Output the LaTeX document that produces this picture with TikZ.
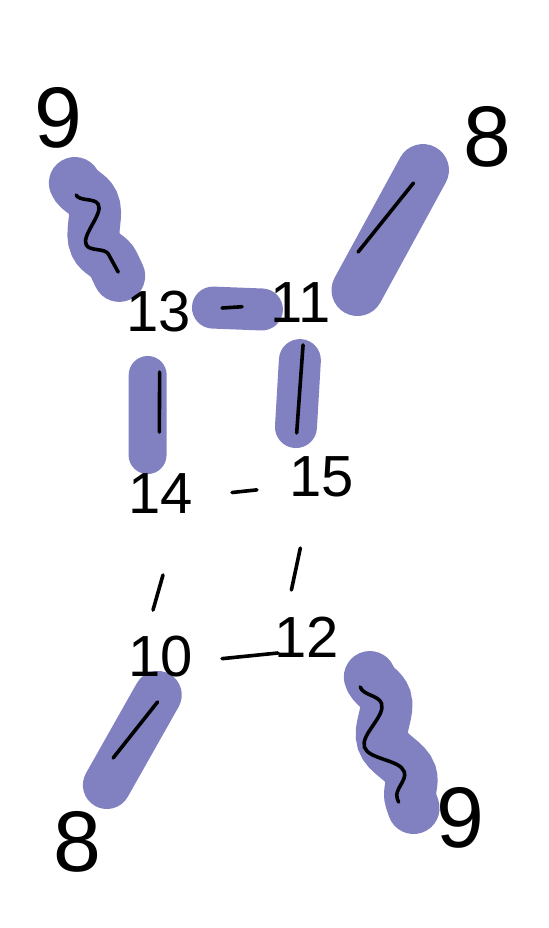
\documentclass[tikz,border=0pt]{standalone}
\usepackage{fontspec}
\setmainfont{Liberation Sans}
\usetikzlibrary{calc, decorations.pathmorphing, backgrounds}
\definecolor{marker}{RGB}{129,129,194}

\begin{document}
\begin{tikzpicture}[x=0.5pt,y=-0.5pt,
  num/.style={inner sep=0pt,font=\fontsize{29}{29}\selectfont},
  bignum/.style={inner sep=0pt,font=\fontsize{43}{43}\selectfont},
  link/.style={draw=black,line width=1.8pt,line cap=round},
  wiggle/.style={link,decorate,decoration={snake,amplitude=7.5pt,segment length=#1}},
  hl/.style={draw=marker,line width=#1,line cap=round},
  hl/.default=24pt,
  hlwiggle/.style={hl=26pt,decorate,decoration={snake,amplitude=4pt,segment length=40pt}}]
  \useasboundingbox (0,0) rectangle (548,928);
  % numbers
  \node[bignum](n9a) at (58,118){9};
  \node[bignum](n8a) at (487,137){8};
  \node[num](n13) at (159,312){13};
  \node[num](n11) at (301,303){11};
  \node[num](n14) at (161,494){14};
  \node[num](n15) at (322,477){15};
  \node[num](n10) at (161,657){10};
  \node[num](n12) at (307,637){12};
  \node[bignum](n8b) at (77,842){8};
  \node[bignum](n9b) at (460,818){9};
  % marker strokes
  \begin{pgfonlayer}{background}
    \draw[hlwiggle] ($(n9a)!.335!(n13)+(-17,0)$) -- ($(n9a)!.814!(n13)+(-21,0)$);
    \draw[hl=21pt] ($(n13)!.38!(n11)+(0,-1)$) -- ($(n13)!.725!(n11)+(0,4)$);
    \draw[hl=26pt] ($(n11)!.078!(n8a)+(42,0)$) -- ($(n11)!.801!(n8a)+(-27,0)$);
    \draw[hl=19pt] ($(n13)!.346!(n14)+(-12,0)$) -- ($(n13)!.786!(n14)+(-13,0)$);
    \draw[hl=21pt] ($(n11)!.328!(n15)+(-8,0)$) -- ($(n11)!.713!(n15)+(-20,0)$);
    \draw[hl] ($(n10)!.205!(n8b)+(14,0)$) -- ($(n10)!.692!(n8b)+(4,0)$);
    \draw[hlwiggle] ($(n12)!.221!(n9b)+(29,0)$) -- ($(n12)!.945!(n9b)+(-38,0)$);
  \end{pgfonlayer}
  % pen strokes
  \draw[wiggle=30pt] ($(n9a)!.397!(n13)+(-22,0)$) -- ($(n9a)!.794!(n13)+(-20,0)$);
  \draw[link] ($(n13)!.444!(n11)$) -- ($(n13)!.585!(n11)$);
  \draw[link] ($(n11)!.307!(n8a)$) -- ($(n11)!.723!(n8a)+(-22,0)$);
  \draw[link] ($(n13)!.33!(n14)$) -- ($(n13)!.66!(n14)+(-1,0)$);
  \draw[link] ($(n11)!.241!(n15)+(-3,0)$) -- ($(n11)!.747!(n15)+(-20,0)$);
  \draw[link] ($(n14)!.441!(n15)+(0,6)$) -- ($(n14)!.596!(n15)+(0,6)$);
  \draw[link] ($(n14)!.497!(n10)+(2,0)$) -- ($(n14)!.712!(n10)+(-8,0)$);
  \draw[link] ($(n15)!.444!(n12)+(-15,0)$) -- ($(n15)!.706!(n12)+(-20,0)$);
  \draw[link] ($(n10)!.418!(n12)+(0,10)$) -- ($(n10)!.801!(n12)+(0,12)$);
  \draw[link] ($(n10)!.243!(n8b)+(17,0)$) -- ($(n10)!.546!(n8b)+(-2,0)$);
  \draw[wiggle=36pt] ($(n12)!.276!(n9b)+(11,0)$) -- ($(n12)!.912!(n9b)+(-48,0)$);
\end{tikzpicture}
\end{document}
